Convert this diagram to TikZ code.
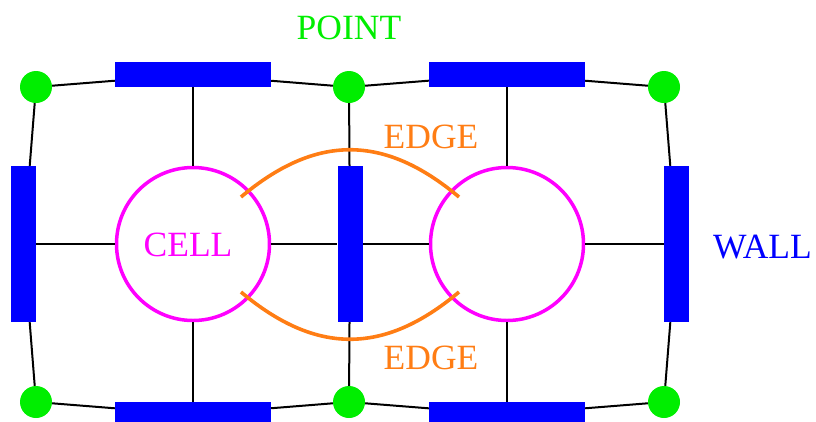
\documentclass[tikz,border=0pt]{standalone}
\usepackage{fontspec}
\setmainfont{Liberation Serif}
\usepackage{tikz}
\definecolor{ptcol}{RGB}{0,238,0}
\definecolor{wallcol}{RGB}{0,0,255}
\definecolor{cellcol}{RGB}{255,0,255}
\definecolor{edgecol}{RGB}{255,125,20}
\tikzset{
  pt/.style  ={circle, fill=ptcol, minimum size=32pt, inner sep=0pt},
  wh/.style  ={rectangle, fill=wallcol, minimum width=156pt, minimum height=25pt, inner sep=0pt},
  wv/.style  ={rectangle, fill=wallcol, minimum width=25pt, minimum height=156pt, inner sep=0pt},
  cell/.style={circle, draw=cellcol, line width=3.5pt, fill=white, minimum size=153pt, inner sep=0pt},
  lnk/.style ={draw=black, line width=2pt},
  edg/.style ={draw=edgecol, line width=3.6pt},
  lab/.style ={font=\fontsize{35.5}{40}\selectfont, inner sep=0pt, anchor=base},
}
\begin{document}
\begin{tikzpicture}[x=1pt,y=-1pt]
  \useasboundingbox (0,0) rectangle (816,421);
  % points
  \node[pt] (p1) at (36,87) {};
  \node[pt] (p2) at (349,87) {};
  \node[pt] (p3) at (664,87) {};
  \node[pt] (p4) at (36,402) {};
  \node[pt] (p5) at (349,402) {};
  \node[pt] (p6) at (664,402) {};
  % walls
  \node[wh] (wt1) at (193,74.5) {};
  \node[wh] (wt2) at (507,74.5) {};
  \node[wh] (wb1) at (193,414.5) {};
  \node[wh] (wb2) at (507,414.5) {};
  \node[wv] (wl) at (23.5,244) {};
  \node[wv] (wm) at (350,244) {};
  \node[wv] (wr) at (676.5,244) {};
  % cells
  \node[cell] (c1) at (193,244) {};
  \node[cell] (c2) at (507,244) {};
  % point -- wall
  \foreach \a/\b in {p1/wt1,wt1/p2,p2/wt2,wt2/p3,p1/wl,wl/p4,p2/wm,wm/p5,
                     p3/wr,wr/p6,p4/wb1,wb1/p5,p5/wb2,wb2/p6}
    \draw[lnk] (\a) -- (\b);
  % cell -- wall
  \foreach \a/\b in {c1/wt1,c1/wb1,c1/wl,c1/wm,c2/wt2,c2/wb2,c2/wm,c2/wr}
    \draw[lnk] (\a) -- (\b);
  % edges
  \coordinate (e1a) at (241,197);
  \coordinate (e1b) at (459,197);
  \coordinate (e2a) at (241,292);
  \coordinate (e2b) at (459,292);
  \draw[edg] (e1a) .. controls (316,134) and (384,134) .. (e1b);
  \draw[edg] (e2a) .. controls (316,355) and (384,355) .. (e2b);
  % labels
  \node[lab,text=ptcol] (lpt) at (349,39) {POINT};
  \node[lab,text=edgecol] (led1) at (431,148) {EDGE};
  \node[lab,text=edgecol] (led2) at (431,369) {EDGE};
  \node[lab,text=cellcol] (lcell) at (188,256) {CELL};
  \node[lab,text=wallcol] (lwall) at (762.5,258) {WALL};
\end{tikzpicture}
\end{document}
